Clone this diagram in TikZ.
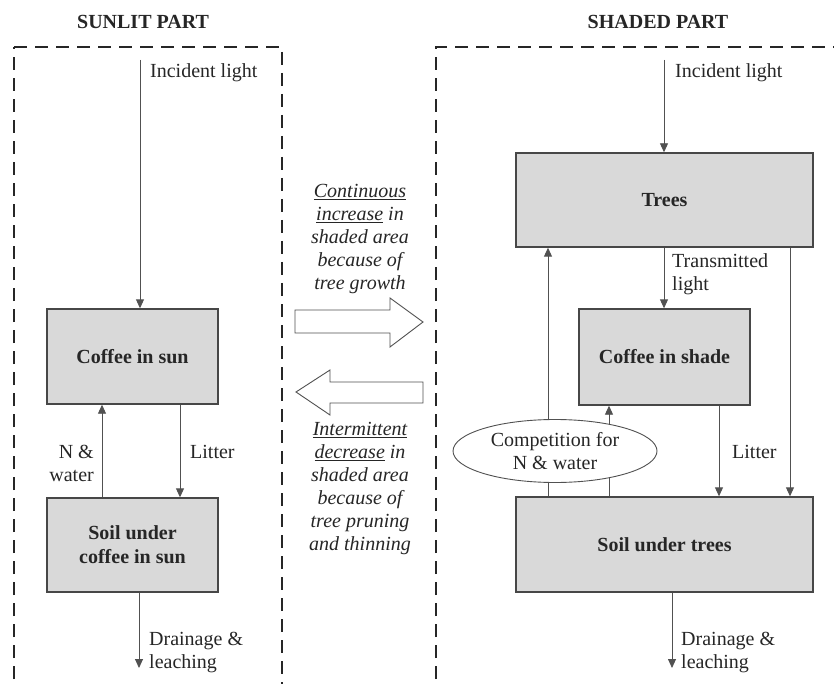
\documentclass[tikz,border=0pt]{standalone}
\usepackage{fontspec}
\setmainfont{Liberation Serif}
\usetikzlibrary{arrows.meta,shapes.geometric}
\definecolor{boxfill}{HTML}{D9D9D9}
\definecolor{ink}{HTML}{262626}
\tikzset{
  box/.style={draw=ink!85, line width=1.4pt, fill=boxfill, font=\fontsize{20}{23}\selectfont\bfseries, text=ink, align=center, inner sep=0pt},
  arr/.style={draw=ink!80, line width=0.9pt, -{Triangle[length=9pt,width=8pt]}},
  plain/.style={draw=ink!80, line width=0.9pt},
  lbl/.style={font=\fontsize{20}{23}\selectfont, text=ink, inner sep=0pt},
  midtxt/.style={font=\fontsize{20}{23}\selectfont\itshape, text=ink, align=center, inner sep=0pt},
  title/.style={font=\fontsize{20}{23}\selectfont\bfseries, text=ink, inner sep=0pt},
  frame/.style={draw=ink, line width=2pt, dash pattern=on 13pt off 8pt},
  blockarrow/.style={draw=ink!80, line width=0.9pt, fill=white}
}
\begin{document}
\begin{tikzpicture}[x=1pt,y=-1pt]
\useasboundingbox[fill=white] (0,0) rectangle (834,684);

% dashed frames
\draw[frame] (14,47) -- (282,47) -- (282,700);
\draw[frame] (14,700) -- (14,47);
\draw[frame] (436,700) -- (436,47) -- (850,47);

% titles
\node[title] (t1) at (143,22) {SUNLIT PART};
\node[title] (t2) at (658,22) {SHADED PART};

% ---------- sunlit part ----------
\node[box, minimum width=171pt, minimum height=95pt] (cis) at (132.5,356.5) {Coffee in sun};
\node[box, minimum width=171pt, minimum height=94pt] (sis) at (132.5,545) {Soil under\\[1pt]coffee in sun};

\coordinate (inl) at (140,60);
\coordinate (drl) at (139,668);
\draw[arr] (inl) -- (inl |- cis.north);
\draw[arr] (sis.north -| 102,0) -- (cis.south -| 102,0);
\draw[arr] (cis.south -| 180,0) -- (sis.north -| 180,0);
\draw[arr] (sis.south -| drl) -- (drl);

\node[lbl, anchor=west] (lil) at (150,73) {Incident light};
\node[lbl, anchor=east, align=right] (nwl) at (94,463) {N \&\\water};
\node[lbl, anchor=west] (ltl) at (190,452) {Litter};
\node[lbl, anchor=west, align=left] (dll) at (149,653) {Drainage \&\\leaching};

% ---------- middle ----------
\node[midtxt] (m1) at (360,239) {\underline{Continuous}\\\underline{increase} in\\shaded area\\because of\\tree growth};
\node[midtxt] (m2) at (360,489) {\underline{Intermittent}\\\underline{decrease} in\\shaded area\\because of\\tree pruning\\and thinning};

\draw[blockarrow] (295,310) -- (390,310) -- (390,298) -- (423,322) -- (390,347) -- (390,333) -- (295,333) -- cycle;
\draw[blockarrow] (423,382) -- (330,382) -- (330,370) -- (296,392) -- (330,415) -- (330,403) -- (423,403) -- cycle;

% ---------- shaded part ----------
\node[box, minimum width=297pt, minimum height=94pt] (tr) at (664.5,200) {Trees};
\node[box, minimum width=171pt, minimum height=96pt] (cish) at (664.5,357) {Coffee in shade};
\node[box, minimum width=297pt, minimum height=95pt] (sut) at (664.5,544.5) {Soil under trees};

\coordinate (inr) at (664,60);
\coordinate (drr) at (672,668);
\draw[arr] (inr) -- (inr |- tr.north);
\draw[arr] (tr.south -| inr) -- (cish.north -| inr);
\draw[arr] (sut.north -| 548,0) -- (tr.south -| 548,0);
\draw[arr] (sut.north -| 609,0) -- (cish.south -| 609,0);
\draw[arr] (cish.south -| 719,0) -- (sut.north -| 719,0);
\draw[arr] (tr.south -| 790,0) -- (sut.north -| 790,0);
\draw[arr] (sut.south -| drr) -- (drr);

\node[draw=ink!80, line width=0.9pt, fill=white, ellipse, minimum width=204pt, minimum height=63pt, inner sep=0pt, font=\fontsize{20}{23}\selectfont, text=ink, align=center] (comp) at (555,451) {Competition for\\N \& water};

\node[lbl, anchor=west] (lir) at (675,73) {Incident light};
\node[lbl, anchor=west, align=left] (tlr) at (672,274) {Transmitted\\light};
\node[lbl, anchor=west] (ltr) at (732,452) {Litter};
\node[lbl, anchor=west, align=left] (dlr) at (681,653) {Drainage \&\\leaching};
\end{tikzpicture}
\end{document}
